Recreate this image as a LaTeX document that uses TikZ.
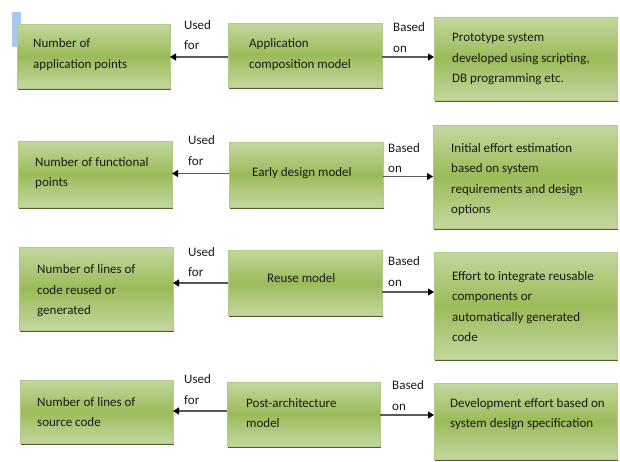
\documentclass[tikz,border=0pt]{standalone}
\usepackage{fontspec}
\setmainfont{Carlito}
\usetikzlibrary{arrows.meta,shadows}

\definecolor{boxlight}{HTML}{C4D79F}
\definecolor{boxmid}{HTML}{9BBB59}
\definecolor{boxedge}{HTML}{B2CB86}
\definecolor{boxshadow}{HTML}{4F6228}
\definecolor{marker}{HTML}{A7CAEC}
\definecolor{linkgray}{HTML}{5A5A5A}

\begin{document}
\begin{tikzpicture}[x=1pt,y=-1pt,
  box/.style={draw=boxedge, line width=0.8pt,
    top color=boxlight, bottom color=boxlight, middle color=boxmid,
    drop shadow={shadow xshift=0.6pt, shadow yshift=-2.2pt, fill=boxshadow, opacity=1},
    inner sep=0pt, outer sep=0pt},
  txt/.style={font=\fontsize{13}{20.5}\selectfont, align=left, anchor=west,
    inner sep=0pt, text=black!90},
  arr/.style={draw=linkgray, line width=1.2pt,
    -{Triangle[length=6pt,width=7pt,color=black]}}
]
\useasboundingbox (0,0) rectangle (620,461);

% small blue marker behind the first box
\fill[marker] (12,12) rectangle (21,47);

% ---- row 1: application composition model
\node[box, minimum width=153pt, minimum height=64pt] (a1) at (93.5,56) {};
\node[box, minimum width=154pt, minimum height=64pt] (b1) at (305,55) {};
\node[box, minimum width=183pt, minimum height=83pt] (c1) at (525.5,58.5) {};
\node[txt] (a1t) at (33,54.5) {Number of\\application points};
\node[txt] (b1t) at (249,54.5) {Application\\composition model};
\node[txt] (c1t) at (452,59) {Prototype system\\developed using scripting,\\DB programming etc.};

% ---- row 2: early design model
\node[box, minimum width=154pt, minimum height=66pt] (a2) at (95,174) {};
\node[box, minimum width=154pt, minimum height=65pt] (b2) at (306,174.5) {};
\node[box, minimum width=184pt, minimum height=103pt] (c2) at (525,176.5) {};
\node[txt] (a2t) at (35,173) {Number of functional\\points};
\node[txt] (b2t) at (252,173) {Early design model};
\node[txt] (c2t) at (451,179.5) {Initial effort estimation\\based on system\\requirements and design\\options};

% ---- row 3: reuse model
\node[box, minimum width=154pt, minimum height=83pt] (a3) at (96,288.5) {};
\node[box, minimum width=154pt, minimum height=65pt] (b3) at (305,282.5) {};
\node[box, minimum width=183pt, minimum height=107pt] (c3) at (525.5,305.5) {};
\node[txt] (a3t) at (37,291) {Number of lines of\\code reused or\\generated};
\node[txt] (b3t) at (267,278) {Reuse model};
\node[txt] (c3t) at (452,306.5) {Effort to integrate reusable\\components or\\automatically generated\\code};

% ---- row 4: post-architecture model
\node[box, minimum width=153pt, minimum height=63pt] (a4) at (96.5,411.5) {};
\node[box, minimum width=153pt, minimum height=64pt] (b4) at (303.5,414) {};
\node[box, minimum width=183pt, minimum height=76pt] (c4) at (525.5,421) {};
\node[txt] (a4t) at (37,412) {Number of lines of\\source code};
\node[txt] (b4t) at (246,413) {Post-architecture\\model};
\node[txt] (c4t) at (450,414) {Development effort based on\\system design specification};

% ---- connectors
\draw[arr] (b1.west |- 0,57) -- (a1.east |- 0,57);
\draw[arr] (b1.east |- 0,57) -- (c1.west |- 0,57);
\draw[arr] (b2.west |- 0,173.5) -- (a2.east |- 0,173.5);
\draw[arr] (b2.east |- 0,176.5) -- (c2.west |- 0,176.5);
\draw[arr] (b3.west |- 0,283) -- (a3.east |- 0,283);
\draw[arr] (b3.east |- 0,292) -- (c3.west |- 0,292);
\draw[arr] (b4.west |- 0,411) -- (a4.east |- 0,411);
\draw[arr] (b4.east |- 0,415) -- (c4.west |- 0,415);

% ---- connector labels
\node[txt] (u1) at (184,35) {Used\\for};
\node[txt] (o1) at (393,37.5) {Based\\on};
\node[txt] (u2) at (188,150.5) {Used\\for};
\node[txt] (o2) at (388,158) {Based\\on};
\node[txt] (u3) at (188,262) {Used\\for};
\node[txt] (o3) at (388,271.5) {Based\\on};
\node[txt] (u4) at (184,389.5) {Used\\for};
\node[txt] (o4) at (392,395.5) {Based\\on};
\end{tikzpicture}
\end{document}
